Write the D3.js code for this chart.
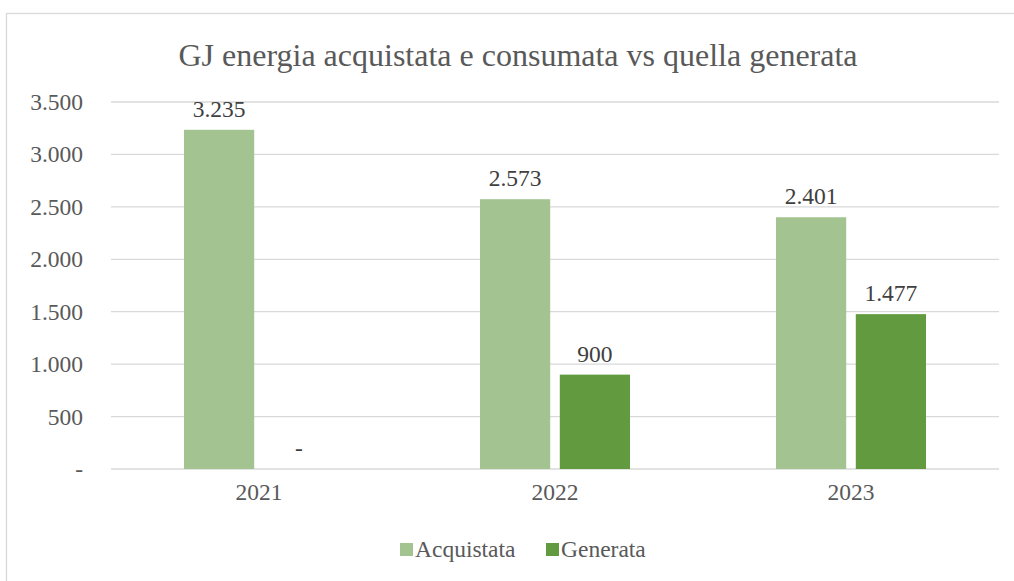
<!DOCTYPE html>
<html>
<head>
    <meta charset="utf-8">
    <title>GJ energia acquistata e consumata vs quella generata</title>
    <script src="https://cdnjs.cloudflare.com/ajax/libs/d3/7.8.5/d3.min.js"></script>
    <style type="text/css">
        body { margin: 0; background: #fff; }
    </style>
</head>
<body>
    <script type="text/javascript">
        // data
        var years = ["2021", "2022", "2023"];
        var series = ["Acquistata", "Generata"];
        var acquistata = [3235, 2573, 2401];
        var generata = [0, 900, 1477];
        var yTicks = [0, 500, 1000, 1500, 2000, 2500, 3000, 3500];
        var colors = ["#a3c490", "#629b3f"];

        var FONT = "Liberation Serif";
        var w = 1014, h = 581;
        var margin = { top: 102, left: 111 };
        var innerW = 999 - margin.left, innerH = 469 - margin.top;

        var it = d3.formatLocale({ decimal: ",", thousands: ".", grouping: [3], currency: ["€", ""] });
        var fmt = function (v) { return v === 0 ? "-" : it.format(",d")(v); };

        var svg = d3.select("body").append("svg")
            .attr("width", w)
            .attr("height", h)
            .style("font-family", FONT);

        // outer frame (runs past right/bottom edges like the source)
        svg.append("rect")
            .attr("x", 6.5).attr("y", 13.5)
            .attr("width", w + 10).attr("height", h + 10)
            .attr("fill", "#fff")
            .attr("stroke", "#d9d9d9")
            .attr("stroke-width", 1.3);

        svg.append("text")
            .attr("x", 518).attr("y", 66)
            .attr("text-anchor", "middle")
            .attr("fill", "#595959")
            .style("font-family", FONT)
            .style("font-size", "32px")
            .text("GJ energia acquistata e consumata vs quella generata");

        var g = svg.append("g")
            .attr("transform", "translate(" + margin.left + "," + margin.top + ")");

        var x0 = d3.scaleBand().domain(years).range([0, innerW]);
        var x1 = d3.scaleBand().domain(series)
            .range([73, x0.bandwidth() - 73])
            .paddingInner(0.12);
        var y = d3.scaleLinear().domain([0, 3500]).range([innerH, 0]);

        // gridlines
        g.append("g")
            .selectAll("line")
            .data(yTicks)
            .enter().append("line")
            .attr("x1", 0).attr("x2", innerW)
            .attr("y1", function (d) { return y(d); })
            .attr("y2", function (d) { return y(d); })
            .attr("stroke", "#d9d9d9")
            .attr("stroke-width", 1.3);

        // y axis
        var yAxis = g.append("g")
            .attr("transform", "translate(-28,0)")
            .call(d3.axisLeft(y).tickValues(yTicks).tickSize(0).tickPadding(0).tickFormat(fmt));
        yAxis.select(".domain").remove();
        yAxis.attr("font-family", null);
        yAxis.selectAll("text")
            .attr("fill", "#595959")
            .style("font-size", "23.5px");

        // x axis
        var xAxis = g.append("g")
            .attr("transform", "translate(0," + innerH + ")")
            .call(d3.axisBottom(x0).tickSize(0).tickPadding(14));
        xAxis.select(".domain").remove();
        xAxis.attr("font-family", null);
        xAxis.selectAll("text")
            .attr("fill", "#595959")
            .style("font-size", "23.5px");

        var rows = years.map(function (yr, i) {
            return { year: yr, values: [acquistata[i], generata[i]] };
        });

        var grp = g.selectAll(".year")
            .data(rows)
            .enter().append("g")
            .attr("class", "year")
            .attr("transform", function (d) { return "translate(" + x0(d.year) + ",0)"; });

        var cells = grp.selectAll("g")
            .data(function (d) { return d.values.map(function (v, j) { return { key: series[j], value: v, j: j }; }); })
            .enter().append("g");

        cells.append("rect")
            .attr("x", function (d) { return x1(d.key); })
            .attr("width", x1.bandwidth())
            .attr("y", function (d) { return y(d.value); })
            .attr("height", function (d) { return innerH - y(d.value); })
            .attr("fill", function (d) { return colors[d.j]; });

        cells.append("text")
            .attr("text-anchor", "middle")
            .attr("x", function (d) { return x1(d.key) + x1.bandwidth() / 2; })
            .attr("y", function (d) { return y(d.value) - 13; })
            .attr("fill", "#404040")
            .style("font-size", "23.5px")
            .text(function (d) { return fmt(d.value); });

        // legend
        var legend = svg.append("g").attr("transform", "translate(400,557)");
        var lx = [0, 146];
        series.forEach(function (s, i) {
            legend.append("rect")
                .attr("x", lx[i]).attr("y", -14)
                .attr("width", 13).attr("height", 13)
                .attr("fill", colors[i]);
            legend.append("text")
                .attr("x", lx[i] + 15).attr("y", 0)
                .attr("fill", "#595959")
                .style("font-size", "23.5px")
                .text(s);
        });
    </script>
</body>
</html>
